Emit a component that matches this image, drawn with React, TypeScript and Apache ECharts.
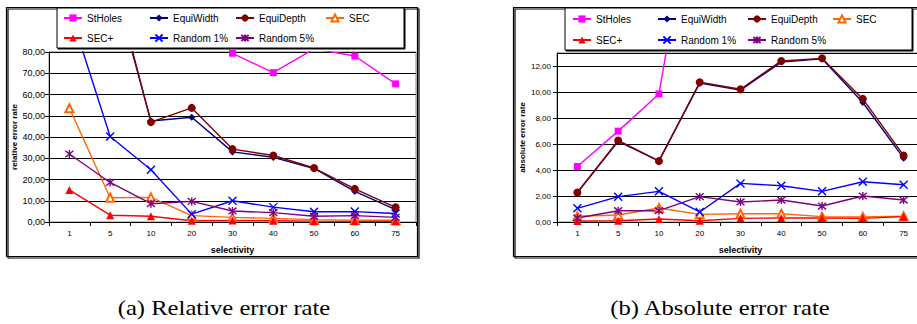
import React, { useEffect, useRef } from 'react';
import * as echarts from 'echarts';

// ---------- data ----------
const categories = ['1', '5', '10', '20', '30', '40', '50', '60', '75'];
const seriesNames = ['StHoles', 'EquiWidth', 'EquiDepth', 'SEC', 'SEC+', 'Random 1%', 'Random 5%'];

// (a) relative error rate
const stHolesRel = [160, 140, 120, 100, 79.4, 70.3, 81.5, 78.1, 65.0];
const equiWidthRel = [170, 118, 47.5, 49.3, 33.0, 30.4, 25.2, 14.4, 5.8];
const equiDepthRel = [170, 121, 47.0, 53.7, 34.3, 31.3, 25.4, 15.6, 6.9];
const secRel = [53.5, 11.4, 11.6, 3.0, 2.2, 1.7, 1.1, 0.9, 0.8];
const secPlusRel = [15.1, 3.2, 2.7, 0.6, 0.7, 0.6, 0.4, 0.3, 0.3];
const random1Rel = [100, 40.2, 24.6, 3.7, 10.0, 7.0, 4.8, 4.9, 4.0];
const random5Rel = [32.0, 18.6, 8.6, 9.7, 5.2, 4.4, 2.7, 3.0, 2.2];

// (b) absolute error rate
const stHolesAbs = [4.27, 6.99, 9.85, 28, 32, 36, 40, 44, 42];
const equiWidthAbs = [2.27, 6.2, 4.7, 10.68, 10.15, 12.3, 12.55, 9.19, 4.91];
const equiDepthAbs = [2.27, 6.27, 4.68, 10.75, 10.21, 12.39, 12.59, 9.47, 5.12];
const secAbs = [0.44, 0.54, 1.08, 0.59, 0.64, 0.64, 0.41, 0.38, 0.44];
const secPlusAbs = [0.08, 0.1, 0.23, 0.1, 0.28, 0.31, 0.31, 0.28, 0.41];
const random1Abs = [1.05, 1.95, 2.36, 0.77, 2.97, 2.79, 2.36, 3.1, 2.87];
const random5Abs = [0.31, 0.87, 0.87, 1.95, 1.54, 1.69, 1.23, 2.0, 1.69];

const relTicks = { min: 0, max: 80, interval: 10 };
const absTicks = { min: 0, max: 13, interval: 2 };

const captionA = '(a) Relative error rate';
const captionB = '(b) Absolute error rate';

// ---------- styles ----------
const X_PATH = 'path://M0 0L10 10M10 0L0 10';
const STAR_PATH = 'path://M0 0L10 10M10 0L0 10M5 -1L5 11';
const styles = [
  { color: '#FF00FF', symbol: 'rect', size: 7, stroke: false },
  { color: '#000080', symbol: 'diamond', size: 7, stroke: false },
  { color: '#800000', symbol: 'circle', size: 8, stroke: false },
  { color: '#FF6600', symbol: 'emptyTriangle', size: 8, stroke: false },
  { color: '#FF0000', symbol: 'triangle', size: 8, stroke: false },
  { color: '#0000FF', symbol: X_PATH, size: 8, stroke: true },
  { color: '#800080', symbol: STAR_PATH, size: 8, stroke: true },
];

const FONT = 'Liberation Sans, Arial, sans-serif';
const fmt = (v: number) => v.toFixed(2).replace('.', ',');

function buildSeries(values: number[][], axisIndex: number) {
  return values.map((vals, i) => {
    const s = styles[i];
    return {
      name: seriesNames[i],
      type: 'line',
      xAxisIndex: axisIndex,
      yAxisIndex: axisIndex,
      data: vals,
      symbol: s.symbol,
      symbolSize: s.size,
      showAllSymbol: true,
      clip: true,
      lineStyle: { color: s.color, width: 1.4 },
      itemStyle: {
        color: s.color,
        borderColor: s.color,
        borderWidth: s.stroke ? 1.4 : s.symbol === 'emptyTriangle' ? 1.2 : 0,
      },
      emphasis: { disabled: true },
    };
  });
}

function buildLegends(markerX: number[], rowY: number[]) {
  const legends: any[] = [];
  seriesNames.forEach((n, i) => {
    const col = i < 4 ? i : i - 4;
    const row = i < 4 ? 0 : 1;
    legends.push({
      data: [n],
      left: markerX[col] - 10,
      top: rowY[row] - 4.5,
      padding: 0,
      itemWidth: 18,
      itemHeight: 9,
      selectedMode: false,
      textStyle: { fontSize: 10, color: '#000', fontFamily: FONT },
    });
  });
  return legends;
}

function xAxis(gridIndex: number) {
  return {
    type: 'category',
    gridIndex,
    data: categories,
    boundaryGap: true,
    axisLine: { show: true, lineStyle: { color: '#000', width: 1 } },
    axisTick: { show: true, length: 4, lineStyle: { color: '#000' } },
    axisLabel: { fontSize: 8, color: '#000', margin: 7, fontFamily: FONT },
    splitLine: { show: false },
    name: 'selectivity',
    nameLocation: 'middle',
    nameGap: 23,
    nameTextStyle: { fontSize: 9, fontWeight: 'bold', color: '#000', fontFamily: FONT },
  };
}

function yAxis(gridIndex: number, ticks: any, name: string, labelSize: number, labelMargin: number) {
  return {
    type: 'value',
    gridIndex,
    min: ticks.min,
    max: ticks.max,
    interval: ticks.interval,
    axisLine: { show: true, lineStyle: { color: '#000', width: 1 } },
    axisTick: { show: true, length: 4, lineStyle: { color: '#000' } },
    axisLabel: {
      fontSize: labelSize,
      color: '#000',
      margin: labelMargin,
      fontFamily: FONT,
      showMaxLabel: ticks.max % ticks.interval === 0,
      formatter: (v: number) => (Math.abs(v % ticks.interval) < 1e-9 ? fmt(v) : ''),
    },
    splitLine: { show: true, lineStyle: { color: '#000', width: 1 } },
    name,
    nameLocation: 'middle',
    nameGap: 31,
    nameTextStyle: { fontSize: 8, fontWeight: 'bold', color: '#000', fontFamily: FONT },
  };
}

function frame(x: number, y: number, w: number, h: number, lw: number) {
  return [
    {
      type: 'rect',
      z: 1,
      shape: { x: x + 1.5, y: y + 1.5, width: w, height: h },
      style: { fill: 'none', stroke: '#000', lineWidth: lw },
      silent: true,
    },
    {
      type: 'rect',
      z: 1,
      shape: { x, y, width: w, height: h },
      style: { fill: 'none', stroke: '#000', lineWidth: lw },
      silent: true,
    },
  ];
}

function legendBox(x: number, y: number, w: number, h: number) {
  return [
    {
      type: 'rect',
      z: 2,
      shape: { x: x + 1, y: y + 1, width: w, height: h },
      style: { fill: '#000', stroke: '#000', lineWidth: 1 },
      silent: true,
    },
    {
      type: 'rect',
      z: 2,
      shape: { x, y, width: w, height: h },
      style: { fill: '#fff', stroke: '#000', lineWidth: 1 },
      silent: true,
    },
  ];
}

function caption(text: string, x: number) {
  return {
    type: 'text',
    x,
    y: 307,
    scaleX: 1.12,
    style: {
      text,
      fontFamily: 'Liberation Serif, serif',
      fontSize: 22,
      fill: '#000',
      align: 'center',
      verticalAlign: 'middle',
    },
  };
}

export default function App() {
  const ref = useRef<HTMLDivElement>(null);
  useEffect(() => {
    if (!ref.current) return;
    const chart = echarts.init(ref.current, null, { renderer: 'svg' });
    const option: any = {
      animation: false,
      backgroundColor: '#fff',
      textStyle: { fontFamily: FONT },
      grid: [
        { left: 49, top: 52, width: 367, height: 170, show: true, borderColor: '#808080', borderWidth: 1, backgroundColor: '#fff' },
        { left: 557, top: 53, width: 367, height: 169, show: true, borderColor: '#808080', borderWidth: 1, backgroundColor: '#fff' },
      ],
      xAxis: [xAxis(0), xAxis(1)],
      yAxis: [
        yAxis(0, relTicks, 'relative error rate', 9, 4),
        yAxis(1, absTicks, 'absolute error rate', 8, 6),
      ],
      legend: [
        ...buildLegends([73, 159, 245, 335], [17.5, 37.5]),
        ...buildLegends([582, 667, 757, 842], [18.5, 39.5]),
      ],
      series: [
        ...buildSeries([stHolesRel, equiWidthRel, equiDepthRel, secRel, secPlusRel, random1Rel, random5Rel], 0),
        ...buildSeries([stHolesAbs, equiWidthAbs, equiDepthAbs, secAbs, secPlusAbs, random1Abs, random5Abs], 1),
      ],
      graphic: [
        ...frame(6.5, 7.5, 411, 249, 1.2),
        ...frame(513.5, 7.5, 420, 249, 1.2),
        ...legendBox(57, 8, 347, 40),
        ...legendBox(565, 8, 347, 42),
        caption(captionA, 224),
        caption(captionB, 720),
      ],
    };
    chart.setOption(option);
    return () => chart.dispose();
  }, []);
  return (
    <div style={{ position: 'fixed', left: 0, top: 0, width: 917, height: 324, overflow: 'hidden', background: '#fff' }}>
      <div ref={ref} style={{ width: 940, height: 324 }} />
    </div>
  );
}
